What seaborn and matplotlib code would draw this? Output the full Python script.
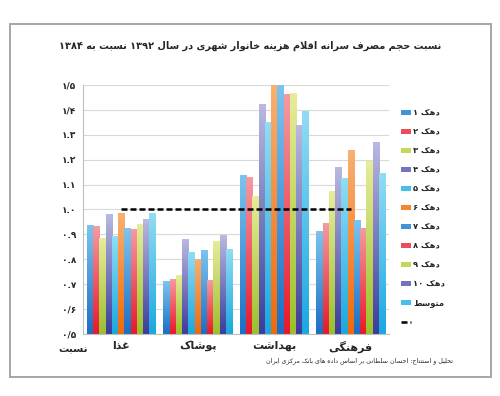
import re
import numpy as np
import pandas as pd
import matplotlib
matplotlib.use('Agg')
import matplotlib.pyplot as plt
import seaborn as sns
from matplotlib.patches import Patch, Rectangle
from matplotlib.lines import Line2D

# ---- data ----
categories = ['غذا', 'پوشاک', 'بهداشت', 'فرهنگی']
series = ['دهک ۱', 'دهک ۲', 'دهک ۳', 'دهک ۴', 'دهک ۵', 'دهک ۶',
          'دهک ۷', 'دهک ۸', 'دهک ۹', 'دهک ۱۰', 'متوسط']
food = [0.938, 0.931, 0.884, 0.981, 0.891, 0.985, 0.924, 0.920, 0.942, 0.961, 0.985]
clothing = [0.710, 0.721, 0.734, 0.878, 0.827, 0.801, 0.837, 0.717, 0.871, 0.895, 0.841]
health = [1.139, 1.128, 1.052, 1.424, 1.350, 1.52, 1.52, 1.464, 1.467, 1.339, 1.393]
culture = [0.911, 0.944, 1.074, 1.168, 1.125, 1.236, 0.958, 0.924, 1.192, 1.270, 1.145]
ref_line = [1.0, 1.0, 1.0, 1.0]
ytick_labels = ['۰/۵', '۰/۶', '۰.۷', '۰.۸', '۰.۹', '۱.۰', '۱.۱', '۱.۲', '۱.۳', '۱/۴', '۱/۵']
title = 'نسبت حجم مصرف سرانه اقلام هزینه خانوار شهری در سال ۱۳۹۲ نسبت به ۱۳۸۴'
footer = 'تحلیل و استنتاج: احسان سلطانی بر اساس داده های بانک مرکزی ایران'
ylabel = 'نسبت'

# top / bottom colours of the gradient bars
base = [('#7cc4ee', '#1b6fc4'), ('#f59aa0', '#e8182a'), ('#e6ec98', '#9cc02c'),
        ('#b8b8e0', '#3c3c9c'), ('#90dcf4', '#1aa8e0'), ('#f8b070', '#f06a0a')]
grad = base + base[:5]
mids = ['#3f95d8', '#ef4a58', '#c4d85a', '#7474bc', '#46c0ea', '#f4862e',
        '#3f95d8', '#ef4a58', '#c4d85a', '#7474bc', '#46c0ea']


# ---- tiny persian shaper (matplotlib does no arabic shaping) ----
F = {
    'ا': (0xFE8D, 0xFE8E, None, None), 'آ': (0xFE81, 0xFE82, None, None),
    'ب': (0xFE8F, 0xFE90, 0xFE91, 0xFE92), 'پ': (0xFB56, 0xFB57, 0xFB58, 0xFB59),
    'ت': (0xFE95, 0xFE96, 0xFE97, 0xFE98), 'ث': (0xFE99, 0xFE9A, 0xFE9B, 0xFE9C),
    'ج': (0xFE9D, 0xFE9E, 0xFE9F, 0xFEA0), 'چ': (0xFB7A, 0xFB7B, 0xFB7C, 0xFB7D),
    'ح': (0xFEA1, 0xFEA2, 0xFEA3, 0xFEA4), 'خ': (0xFEA5, 0xFEA6, 0xFEA7, 0xFEA8),
    'د': (0xFEA9, 0xFEAA, None, None), 'ذ': (0xFEAB, 0xFEAC, None, None),
    'ر': (0xFEAD, 0xFEAE, None, None), 'ز': (0xFEAF, 0xFEB0, None, None),
    'ژ': (0xFB8A, 0xFB8B, None, None),
    'س': (0xFEB1, 0xFEB2, 0xFEB3, 0xFEB4), 'ش': (0xFEB5, 0xFEB6, 0xFEB7, 0xFEB8),
    'ص': (0xFEB9, 0xFEBA, 0xFEBB, 0xFEBC), 'ض': (0xFEBD, 0xFEBE, 0xFEBF, 0xFEC0),
    'ط': (0xFEC1, 0xFEC2, 0xFEC3, 0xFEC4), 'ظ': (0xFEC5, 0xFEC6, 0xFEC7, 0xFEC8),
    'ع': (0xFEC9, 0xFECA, 0xFECB, 0xFECC), 'غ': (0xFECD, 0xFECE, 0xFECF, 0xFED0),
    'ف': (0xFED1, 0xFED2, 0xFED3, 0xFED4), 'ق': (0xFED5, 0xFED6, 0xFED7, 0xFED8),
    'ک': (0xFB8E, 0xFB8F, 0xFB90, 0xFB91), 'گ': (0xFB92, 0xFB93, 0xFB94, 0xFB95),
    'ل': (0xFEDD, 0xFEDE, 0xFEDF, 0xFEE0), 'م': (0xFEE1, 0xFEE2, 0xFEE3, 0xFEE4),
    'ن': (0xFEE5, 0xFEE6, 0xFEE7, 0xFEE8), 'و': (0xFEED, 0xFEEE, None, None),
    'ه': (0xFEE9, 0xFEEA, 0xFEEB, 0xFEEC), 'ی': (0xFBFC, 0xFBFD, 0xFBFE, 0xFBFF),
}


def fa(text):
    out = []
    i = 0
    n = len(text)
    while i < n:
        c = text[i]
        if c not in F:
            out.append(c)
            i += 1
            continue
        prev = text[i - 1] if i > 0 else None
        jp = prev in F and F[prev][2] is not None
        nxt = text[i + 1] if i + 1 < n else None
        if c == 'ل' and nxt in ('ا', 'آ'):
            code = {'ا': (0xFEFB, 0xFEFC), 'آ': (0xFEF5, 0xFEF6)}[nxt][1 if jp else 0]
            out.append(chr(code))
            i += 2
            continue
        jn = F[c][2] is not None and nxt in F
        iso, fin, ini, med = F[c]
        if jp and jn:
            code = med
        elif jp:
            code = fin
        elif jn:
            code = ini
        else:
            code = iso
        out.append(chr(code))
        i += 1
    s = ''.join(out)
    tokens = re.findall(r'[۰-۹0-9]+(?:[./][۰-۹0-9]+)*|.', s)
    return ''.join(reversed(tokens))


sns.set_style('white')
plt.rcParams['font.family'] = ['DejaVu Sans']

df = pd.DataFrame({
    'cat': np.repeat(categories, len(series)),
    'series': series * len(categories),
    'value': food + clothing + health + culture,
})

fig = plt.figure(figsize=(5, 3.96), dpi=100)
ax = fig.add_axes([0.166, 0.157, 0.612, 0.628])

sns.barplot(data=df, x='cat', y='value', hue='series', order=categories,
            hue_order=series, palette=mids, saturation=1, width=0.9,
            legend=False, ax=ax)

# gradient fill for each bar
for hi, cont in enumerate(ax.containers):
    top_c = np.array(matplotlib.colors.to_rgb(grad[hi][0]))
    bot_c = np.array(matplotlib.colors.to_rgb(grad[hi][1]))
    t = np.linspace(0, 1, 64)[:, None]
    img = (top_c * (1 - t) + bot_c * t)[:, None, :]
    for bar in cont:
        x0 = bar.get_x()
        w = bar.get_width()
        h = min(bar.get_height(), 1.5)
        ax.imshow(img, extent=[x0, x0 + w, 0.5, h], aspect='auto',
                  interpolation='bilinear', zorder=2)
        bar.set_visible(False)

ax.plot(range(len(categories)), ref_line, color='black', ls=(0, (2.4, 1.2)),
        lw=1.8, zorder=4)

ax.set_xlim(-0.5, 3.5)
ax.set_ylim(0.5, 1.5)
ax.set_yticks(np.linspace(0.5, 1.5, 11))
ax.set_yticklabels(ytick_labels, fontsize=6.5, fontweight='bold')
ax.set_xticks(range(len(categories)))
ax.set_xticklabels([fa(c) for c in categories], fontsize=8, fontweight='bold')
ax.set_xticks(np.arange(-0.5, 4, 1), minor=True)
ax.tick_params(axis='x', which='major', length=0, pad=5)
ax.tick_params(axis='x', which='minor', length=3, color='#bfbfbf')
ax.tick_params(axis='y', length=3, color='#bfbfbf', pad=2)
ax.set_xlabel('')
ax.set_ylabel('')
ax.yaxis.grid(True, color='#d9d9d9', lw=0.8)
ax.set_axisbelow(True)
for s in ['top', 'right']:
    ax.spines[s].set_visible(False)
for s in ['left', 'bottom']:
    ax.spines[s].set_color('#bfbfbf')
    ax.spines[s].set_linewidth(0.8)

# legend
handles = [Patch(facecolor=c, edgecolor='none') for c in mids]
handles.append(Line2D([], [], color='black', ls=(0, (2.4, 1.2)), lw=1.8))
labels = [fa(s) for s in series] + ['']
fig.legend(handles, labels, loc='upper left', bbox_to_anchor=(0.795, 0.735),
           frameon=False, prop={'size': 6, 'weight': 'bold'},
           handlelength=1.2, handleheight=0.55, labelspacing=1.2,
           handletextpad=0.3, borderaxespad=0)

fig.text(0.5, 1 - 46 / 396, fa(title), ha='center', va='center',
         fontsize=7, fontweight='bold')
fig.text(73 / 500, 1 - 349 / 396, fa(ylabel), ha='center', va='center',
         fontsize=7.5, fontweight='bold')
fig.text(453 / 500, 1 - 361 / 396, fa(footer), ha='right', va='center',
         fontsize=4.6)

fig.patches.append(Rectangle((0.02, 0.048), 0.962, 0.891, transform=fig.transFigure,
                             fill=False, edgecolor='#a6a6a6', lw=1.4))

fig.savefig('out.png', dpi=100)
